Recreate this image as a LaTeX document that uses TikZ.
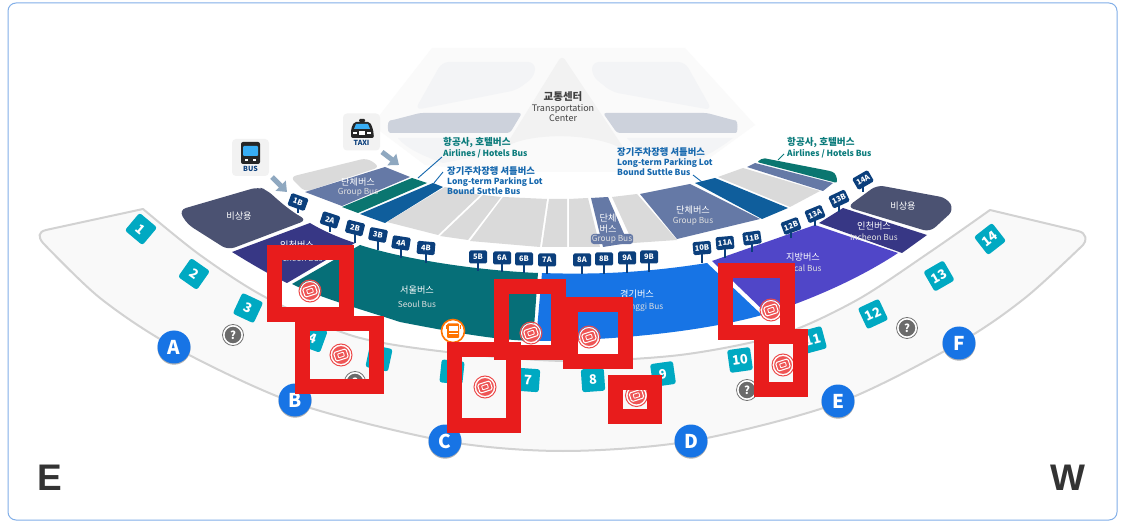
\documentclass[tikz,border=0pt]{standalone}
\usepackage{fontspec}
\setmainfont{Noto Sans CJK KR}
\newfontfamily\hfont{Liberation Sans}
\definecolor{emerg}{HTML}{4B5272}
\definecolor{inch}{HTML}{373785}
\definecolor{seoul}{HTML}{066F78}
\definecolor{gyeong}{HTML}{1774E5}
\definecolor{local}{HTML}{5046C8}
\definecolor{groupc}{HTML}{6579A6}
\definecolor{shuttle}{HTML}{0F5E9C}
\definecolor{airline}{HTML}{0A7670}
\definecolor{greyz}{HTML}{DADADA}
\definecolor{tile}{HTML}{00A9C2}
\definecolor{redbox}{HTML}{E81C1C}
\definecolor{stopc}{HTML}{0B3F7C}
\definecolor{walk}{HTML}{F9F9F9}
\definecolor{walkl}{HTML}{D2D2D2}
\definecolor{tc}{HTML}{F3F4F6}
\definecolor{tcb}{HTML}{CDD2DC}
\definecolor{arrowc}{HTML}{8FA8C0}
\definecolor{labteal}{HTML}{0A7B7B}
\definecolor{labblue}{HTML}{1668AE}
\definecolor{framec}{HTML}{82AFE8}
\definecolor{winc}{HTML}{38AEF5}
\usetikzlibrary{arrows.meta}
\tikzset{
 zone/.style={line join=round,line width=1pt},
 zlabel/.style={text=white,font=\fontsize{9.2}{10}\selectfont,inner sep=0pt},
 zsub/.style={text=white!88!black,font=\fontsize{8.3}{9}\selectfont,inner sep=0pt},
 stoptag/.style={fill=stopc,text=white,rounded corners=1.5pt,minimum width=18pt,minimum height=13pt,inner sep=0pt,font=\bfseries\fontsize{7.5}{8}\selectfont},
 stem/.style={draw=stopc,line width=1.2pt},
 tiletag/.style={fill=tile,text=white,rounded corners=2.5pt,minimum width=23pt,minimum height=23pt,inner sep=0pt,font=\bfseries\fontsize{13}{14}\selectfont},
 gate/.style={circle,fill=gyeong,text=white,minimum size=33pt,inner sep=0pt,font=\bfseries\fontsize{19}{20}\selectfont},
 help/.style={circle,fill=black!58,draw=white,line width=1.2pt,text=white,minimum size=18pt,inner sep=0pt,font=\bfseries\fontsize{11}{12}\selectfont},
 helpring/.style={circle,draw=black!55,line width=.8pt,minimum size=21pt,inner sep=0pt},
 ticket/.style={circle,fill=redbox!75!white,draw=white,line width=1pt,minimum size=19pt,inner sep=0pt},
 ticketring/.style={circle,draw=redbox!80!white,line width=1pt,minimum size=22pt,inner sep=0pt},
 redframe/.style={draw=redbox,line width=15pt,line join=miter},
 card/.style={fill=black!5,rounded corners=4pt,minimum width=37pt,minimum height=37pt,inner sep=0pt},
 cardtext/.style={text=stopc,font=\bfseries\fontsize{7}{8}\selectfont,inner sep=0pt},
 bigarrow/.style={draw=arrowc,line width=5pt,-{Triangle[length=9pt,width=14pt]}},
 leader/.style={draw=labblue,line width=.9pt},
 lt/.style={anchor=west,inner sep=0pt,text=labteal,font=\bfseries\fontsize{9.6}{10}\selectfont},
 lts/.style={anchor=west,inner sep=0pt,text=labteal,font=\bfseries\fontsize{8.4}{9}\selectfont},
 lb/.style={anchor=west,inner sep=0pt,text=labblue,font=\bfseries\fontsize{9.3}{10}\selectfont},
 lbs/.style={anchor=west,inner sep=0pt,text=labblue,font=\bfseries\fontsize{8.4}{9}\selectfont},
 tctext/.style={inner sep=0pt,text=black!75,font=\fontsize{9}{10}\selectfont},
}
\begin{document}
\begin{tikzpicture}[x=1pt,y=-1pt]
\useasboundingbox (0,0) rectangle (1132,526);
\fill[white] (0,0) rectangle (1132,526);
\draw[draw=framec,line width=1pt,rounded corners=8pt] (8,3) rectangle (1117,520);

% transportation centre
\fill[black!2] (432,48) -- (685,48) -- (755,125) -- (700,165) -- (625,172) -- (500,172) -- (425,165) -- (372,125) -- cycle;
\fill[tc,rounded corners=7pt] (442,62) -- (535,62) -- (535,76) -- (517,90) -- (415,110) -- cycle;
\fill[tc,rounded corners=7pt] (592,62) -- (685,62) -- (712,110) -- (612,92) -- (592,76) -- cycle;
\fill[tc] (398,138) -- (510,138) -- (500,152) -- (443,163) .. controls (420,155) and (405,147) .. (398,138) -- cycle;
\fill[tc] (627,138) -- (733,138) .. controls (720,148) and (705,157) .. (690,163) -- (640,152) -- cycle;
\fill[black!5,rounded corners=6pt] (562,55) -- (625,150) .. controls (590,133) and (535,133) .. (505,147) -- cycle;
\fill[tcb,rounded corners=3pt] (420,113) -- (522,113) -- (510,133) -- (393,133) .. controls (387,133) and (387,121) .. (393,120) -- cycle;
\fill[tcb,rounded corners=3pt] (603,113) -- (707,113) -- (733,120) .. controls (738,121) and (738,133) .. (733,133) -- (617,133) -- cycle;

% walkway
\draw[fill=walk,draw=walkl,line width=2pt,line join=round]
  (143,209) -- plot[smooth] coordinates {(143,209) (200,255) (265,297) (353,336) (447,352) (565,361) (680,355) (780,335) (857,300) (930,252) (990,210)}
  -- (1078,231) .. controls (1087,233) and (1087,241) .. (1083,245)
  -- plot[smooth] coordinates {(1083,245) (1025,298) (959,343) (838,403) (691,441) (563,451) (445,441) (295,403) (174,347) (100,298) (43,243)}
  .. controls (38,237) and (38,232) .. (46,230) -- cycle;

% emergency and bus zones
\fill[emerg,zone,rounded corners=7pt] (179,210) -- (258,187) -- (267,190) .. controls (280,202) and (292,212) .. (307,220) -- (228,250) -- (187,224) -- cycle;
\fill[emerg,zone,rounded corners=7pt] (847,207) -- (877,185) -- (947,198) -- (954,210) -- (930,232) -- cycle;
\fill[inch] (232,252) -- (310,223) .. controls (325,232) and (340,238) .. (355,243) -- (287,283) .. controls (268,274) and (250,263) .. (232,252) -- cycle;
\fill[inch] (819,223) -- (843,208) -- (927,235) -- (902,253) -- cycle;
\fill[seoul] (360,245) .. controls (400,258) and (470,270) .. (538,273) -- (533,341) .. controls (500,340) and (467,335) .. (400,322) .. controls (370,312) and (320,298) .. (292,284) -- cycle;
\fill[gyeong] (542,273) .. controls (600,275) and (650,272) .. (707,263) -- (762,315) .. controls (720,327) and (640,340) .. (536,341) -- cycle;
\fill[local] (712,261) -- (815,225) -- (898,253) .. controls (860,278) and (815,298) .. (767,314) -- cycle;

% upper tier
\fill[greyz,rounded corners=6pt] (290,177) -- (367,158) -- (380,167) -- (305,192) -- cycle;
\fill[groupc] (305,192) -- (385,167) -- (410,177) -- (342,206) -- cycle;
\fill[airline] (342,207) -- (412,178) -- (427,183) -- (358,213) -- cycle;
\fill[shuttle] (360,214) -- (433,183) -- (443,187) -- (385,223) -- cycle;
\fill[greyz] (387,222) -- (445,187) -- (480,195) -- (438,235) -- cycle;
\fill[greyz] (440,236) -- (483,195) -- (501,197) -- (468,240) -- cycle;
\fill[greyz] (470,241) -- (503,197) -- (547,199) -- (540,247) -- cycle;
\fill[greyz] (542,247) -- (549,199) -- (567,199) -- (567,247) -- cycle;
\fill[greyz] (569,247) -- (569,199) -- (588,198) -- (600,247) -- cycle;
\fill[groupc] (603,247) -- (591,198) -- (608,197) -- (628,243) -- cycle;
\fill[greyz] (633,243) -- (612,197) -- (637,194) -- (677,240) -- cycle;
\fill[groupc] (677,239) -- (640,194) -- (690,184) -- (760,219) -- cycle;
\fill[shuttle] (762,219) -- (695,183) -- (715,178) -- (788,208) -- cycle;
\fill[greyz] (790,207) -- (718,177) -- (743,168) -- (820,191) -- cycle;
\fill[groupc] (823,191) -- (747,167) -- (755,163) -- (833,183) -- cycle;
\fill[airline,rounded corners=2pt] (757,162) -- (763,158) -- (830,171) .. controls (836,173) and (837,178) .. (837,183) -- cycle;

% zone labels
\node[zlabel] (zemL) at (239,216) {비상용};
\node[zlabel] (zemR) at (903,206) {비상용};
\node[zlabel] (zinL) at (297,245) {인천버스};
\node[zsub] (zinLs) at (299,258) {Incheon Bus};
\node[zlabel] (zinR) at (874,226) {인천버스};
\node[zsub] (zinRs) at (874,237) {Incheon Bus};
\node[zlabel] (zse) at (417,290) {서울버스};
\node[zsub] (zses) at (417,304) {Seoul Bus};
\node[zlabel] (zgy) at (637,294) {경기버스};
\node[zsub] (zgys) at (637,307) {Gyeonggi Bus};
\node[zlabel] (zlo) at (803,257) {지방버스};
\node[zsub] (zlos) at (803,268) {Local Bus};
\node[zlabel] (zgr1) at (358,182) {단체버스};
\node[zsub] (zgr1s) at (358,192) {Group Bus};
\node[zlabel] (zgr2) at (693,210) {단체버스};
\node[zsub] (zgr2s) at (693,221) {Group Bus};
\node[zlabel] (zgr3a) at (608,218) {단체};
\node[zlabel] (zgr3b) at (608,229) {버스};
\node[zsub,fill=groupc,inner sep=1pt,rounded corners=3pt] (zgr3s) at (612,239) {Group Bus};

% centre label
\node[inner sep=0pt,text=black!75,font=\bfseries\fontsize{10.5}{11}\selectfont] (tc1) at (563,97) {교통센터};
\node[tctext] (tc2) at (563,109) {Transportation};
\node[tctext] (tc3) at (563,118) {Center};

% side labels
\node[lt] (a1) at (443,143) {항공사, 호텔버스};
\node[lts] (a1s) at (443,154) {Airlines / Hotels Bus};
\node[lb] (s1) at (447,171) {장기주차장행 셔틀버스};
\node[lbs] (s1a) at (447,182) {Long-term Parking Lot};
\node[lbs] (s1b) at (447,191) {Bound Suttle Bus};
\node[lb] (s2) at (617,152) {장기주차장행 셔틀버스};
\node[lbs] (s2a) at (617,163) {Long-term Parking Lot};
\node[lbs] (s2b) at (617,172) {Bound Suttle Bus};
\node[lt] (a2) at (787,143) {항공사, 호텔버스};
\node[lts] (a2s) at (787,154) {Airlines / Hotels Bus};
\coordinate (ca1) at (418,178); \coordinate (ca1t) at (442,157);
\coordinate (cs1) at (434,183); \coordinate (cs1t) at (443,172);
\coordinate (cs2) at (702,182); \coordinate (cs2t) at (693,175);
\coordinate (ca2) at (778,160); \coordinate (ca2t) at (784,154);
\draw[leader] (ca1) -- (ca1t);
\draw[leader] (cs1) -- (cs1t);
\draw[leader] (cs2) -- (cs2t);
\draw[leader,draw=labteal] (ca2) -- (ca2t);

% stops
\foreach \n/\x/\y/\r/\e in {1B/298/202/-20/213,2A/330/220/-18/232,2B/355/228/-14/243,3B/378/235/-11/250,4A/401/243/-9/258,4B/426/248/-5/263,5B/478/257/0/271,6A/502/258/0/272,6B/524/259/0/273,7A/547/260/0/274,8A/582/260/0/274,8B/604/259/0/274,9A/627/258/0/273,9B/649/257/0/272,10B/702/248/5/263,11A/725/243/5/258,11B/752/238/8/252,12B/791/226/20/238,13A/815/214/22/226,13B/839/199/25/212,14A/863/180/30/192}{
  \coordinate (e\n) at (\x,\e);
  \draw[stem] (\x,\y) -- (e\n);
  \node[stoptag,rotate=\r] (s\n) at (\x,\y) {\n};
}

% tiles
\foreach \n/\x/\y/\r in {1/141/229/-40,2/194/274/-35,3/248/308/-25,4/313/338/-20,5/379/358/-12,6/452/372/-6,7/528/380/-4,8/593/380/4,9/663/374/8,10/740/360/8,11/813/340/15,12/873/314/25,13/939/276/30,14/990/239/38}{
  \node[tiletag,rotate=\r] (t\n) at (\x,\y) {\n};
}

% help marks
\foreach \n/\x/\y in {h1/233/335,h2/355/382,h3/747/390,h4/907/328}{
  \node[helpring] (\n r) at (\x,\y) {};
  \node[help] (\n) at (\x,\y) {?};
}

% gates
\foreach \n/\x/\y in {A/174/347,B/295/400,C/445/441,D/691/441,E/838/401,F/959/343}{
  \fill[black!30] (\x,\y+1.2) circle (16.5pt);
  \node[gate] (g\n) at (\x,\y) {\n};
}

% orange bus stop marker
\node[circle,fill=white,draw=orange!90!red,line width=1.6pt,minimum size=23pt,inner sep=0pt] (obus) at (453,331) {};
\fill[orange!90!red,rounded corners=1pt] (447,323.5) rectangle (459,338);
\fill[white] (448.5,326) rectangle (457.5,331);
\fill[white] (448.5,333) rectangle (457.5,334.5);
\fill[orange!90!red] (445.5,325) rectangle (446.5,329);
\fill[orange!90!red] (459.5,325) rectangle (460.5,329);

% cards
\node[card] (buscard) at (250.5,157.5) {};
\node[card] (taxicard) at (361.5,132) {};
% bus icon
\fill[black!85,rounded corners=2pt] (241,142) rectangle (260,164);
\fill[winc,rounded corners=1pt] (243,146) rectangle (258,156);
\fill[white] (245,159) rectangle (248,161);
\fill[white] (253,159) rectangle (256,161);
\node[cardtext] (bustxt) at (250.5,169) {BUS};
% taxi icon
\fill[black!85,rounded corners=1pt] (359,119) rectangle (365,122);
\fill[black!85,rounded corners=2pt] (354,122) -- (370,122) -- (373,129) -- (374,138) -- (351,138) -- (351,129) -- cycle;
\fill[winc] (356,124) -- (368,124) -- (370,129) -- (354,129) -- cycle;
\fill[white] (353,132) rectangle (357,134);
\fill[white] (367,132) rectangle (371,134);
\fill[white] (359,131) rectangle (365,135);
\node[cardtext] (taxitxt) at (361.5,143) {TAXI};
\coordinate (busend) at (287,192);
\coordinate (taxiend) at (399,165);
\coordinate (busstart) at (272,177);
\coordinate (taxistart) at (382,152);
\draw[bigarrow] (busstart) -- (busend);
\draw[bigarrow] (taxistart) -- (taxiend);

% compass
\node[inner sep=0pt,text=black!80,font=\hfont\bfseries\fontsize{37}{38}\selectfont] (cE) at (50,478) {E};
\node[inner sep=0pt,text=black!80,font=\hfont\bfseries\fontsize{37}{38}\selectfont] (cW) at (1068,478) {W};

% ticket icons
\foreach \n/\x/\y in {k1/310/291,k2/341/355,k3/485/387,k4/531/333,k5/589/337,k6/636.5/395.5,k7/771/310,k8/783/365}{
  \node[ticketring] (\n r) at (\x,\y) {};
  \node[ticket] (\n) at (\x,\y) {};
  \draw[white,line width=1pt,rounded corners=1.5pt,rotate around={18:(\x,\y)}] (\x-6.5,\y-4.5) rectangle (\x+6.5,\y+4.5);
  \draw[white,line width=.8pt,rounded corners=.6pt,rotate around={18:(\x,\y)}] (\x-3,\y-2) rectangle (\x+3,\y+2);
}

% red frames
\draw[redframe] (274.5,252.5) rectangle (346.5,314.5);
\draw[redframe] (302,324) rectangle (376.5,386.5);
\draw[redframe] (454,349.5) rectangle (513,425.5);
\draw[redframe] (501.5,286.5) rectangle (558,352.5);
\draw[redframe] (570,305) rectangle (625,361.5);
\draw[redframe] (615.5,382) rectangle (654,416.5);
\draw[redframe] (725,270.5) rectangle (787,332.5);
\draw[redframe] (761,337) rectangle (800.5,389.5);
\end{tikzpicture}
\end{document}
